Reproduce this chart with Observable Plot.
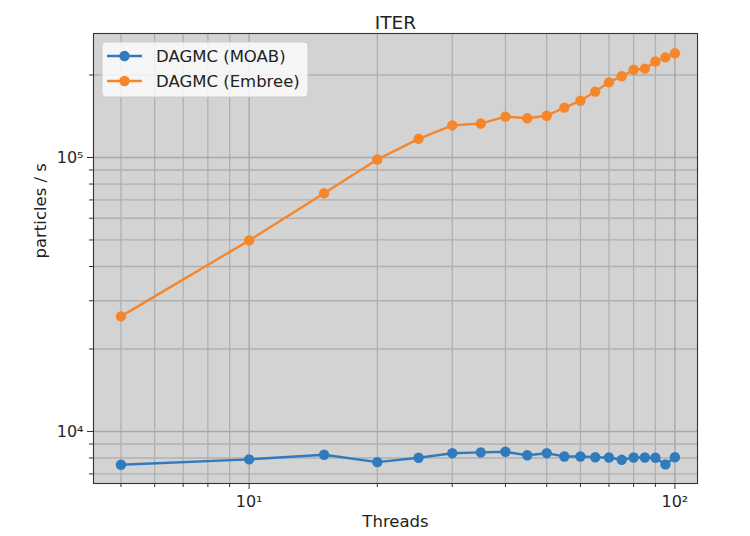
<!DOCTYPE html>
<html>
<head>
<meta charset="utf-8">
<script src="https://cdn.jsdelivr.net/npm/d3@7"></script>
<script src="https://cdn.jsdelivr.net/npm/@observablehq/plot@0.6"></script>
<style>
  body { margin: 0; background: #fff; }
  #chart { position: relative; width: 750px; height: 536px; }
  svg { font-family: "DejaVu Sans", sans-serif; }
</style>
</head>
<body>
<div id="chart"></div>
<script>
const threads = [5,10,15,20,25,30,35,40,45,50,55,60,65,70,75,80,85,90,95,100];
const moab = [7560,7910,8220,7730,8020,8330,8390,8430,8190,8330,8100,8100,8050,8035,7880,8035,8035,8020,7580,8050];
const embree = [26300,49800,74000,98300,117000,131000,133000,141000,139000,142000,152000,161000,174000,188000,198000,209000,211000,224000,232000,240000];
const seriesNames = ["DAGMC (MOAB)", "DAGMC (Embree)"];
const seriesColors = ["#2f7bbd", "#f5862a"];
const xMajor = [10, 100];
const xMinor = [5,6,7,8,9,20,30,40,50,60,70,80,90];
const yMajor = [1e4, 1e5];
const yMinor = [7000,8000,9000,20000,30000,40000,50000,60000,70000,80000,90000,200000];
const titleText = "ITER";
const xLabel = "Threads";
const yLabel = "particles / s";

const sup = {"0":"⁰","1":"¹","2":"²","3":"³","4":"⁴","5":"⁵","6":"⁶","7":"⁷","8":"⁸","9":"⁹"};
const fmtPow = v => "10" + String(Math.round(Math.log10(v))).split("").map(c => sup[c]).join("");

const data = [];
threads.forEach((t, i) => {
  data.push({threads: t, value: moab[i], series: seriesNames[0]});
  data.push({threads: t, value: embree[i], series: seriesNames[1]});
});

const plot = Plot.plot({
  width: 750,
  height: 536,
  marginLeft: 93,
  marginRight: 53,
  marginTop: 33,
  marginBottom: 53,
  style: {fontFamily: "DejaVu Sans, sans-serif", fontSize: "16px", color: "#262626"},
  x: {type: "log", domain: [4.31, 113]},
  y: {type: "log", domain: [6457, 283500]},
  color: {domain: seriesNames, range: seriesColors},
  marks: [
    Plot.frame({fill: "#d3d3d3", stroke: null}),
    Plot.gridX(xMinor, {stroke: "#b0b0b0", strokeOpacity: 1, strokeWidth: 1.3}),
    Plot.gridY(yMinor, {stroke: "#b0b0b0", strokeOpacity: 1, strokeWidth: 1.3}),
    Plot.gridX(xMajor, {stroke: "#a8a8a8", strokeOpacity: 1, strokeWidth: 1.4}),
    Plot.gridY(yMajor, {stroke: "#a8a8a8", strokeOpacity: 1, strokeWidth: 1.4}),
    Plot.line(data, {x: "threads", y: "value", stroke: "series", strokeWidth: 2.4}),
    Plot.dot(data, {x: "threads", y: "value", fill: "series", r: 5.2, stroke: null}),
    Plot.frame({stroke: "#333", strokeWidth: 1.1}),
    Plot.axisX(xMajor, {tickSize: 6, tickPadding: 6, tickFormat: fmtPow, label: null, fontSize: 16, stroke: "#333"}),
    Plot.axisX(xMinor, {tickSize: 4, tickFormat: () => "", label: null, stroke: "#333"}),
    Plot.axisY(yMajor, {tickSize: 6, tickPadding: 4, tickFormat: fmtPow, label: null, fontSize: 16, stroke: "#333"}),
    Plot.axisY(yMinor, {tickSize: 4, tickFormat: () => "", label: null, stroke: "#333"}),
    Plot.text([titleText], {frameAnchor: "top", dy: -18, text: d => d, fontSize: 18.5, fill: "#222"}),
    Plot.text([xLabel], {frameAnchor: "bottom", dy: 43, text: d => d, fontSize: 16.5, fill: "#222"}),
    Plot.text([yLabel], {frameAnchor: "left", dx: -53, rotate: -90, text: d => d, fontSize: 16.5, fill: "#222"})
  ]
});
document.getElementById("chart").appendChild(plot);

// legend (inside the plot area, upper left)
const svg = d3.select(plot);
const lg = svg.append("g").attr("transform", "translate(102,42)");
lg.append("rect").attr("width", 206).attr("height", 55).attr("rx", 4)
  .attr("fill", "#fff").attr("fill-opacity", 0.8).attr("stroke", "#ccc");
seriesNames.forEach((name, i) => {
  const cy = 14 + i * 25;
  lg.append("line").attr("x1", 5).attr("x2", 40).attr("y1", cy).attr("y2", cy)
    .attr("stroke", seriesColors[i]).attr("stroke-width", 2.4);
  lg.append("circle").attr("cx", 22.5).attr("cy", cy).attr("r", 5.2).attr("fill", seriesColors[i]);
  lg.append("text").attr("x", 54).attr("y", cy).attr("dy", "0.35em")
    .attr("text-anchor", "start")
    .attr("font-size", 16.5).attr("fill", "#222").text(name);
});
</script>
</body>
</html>
